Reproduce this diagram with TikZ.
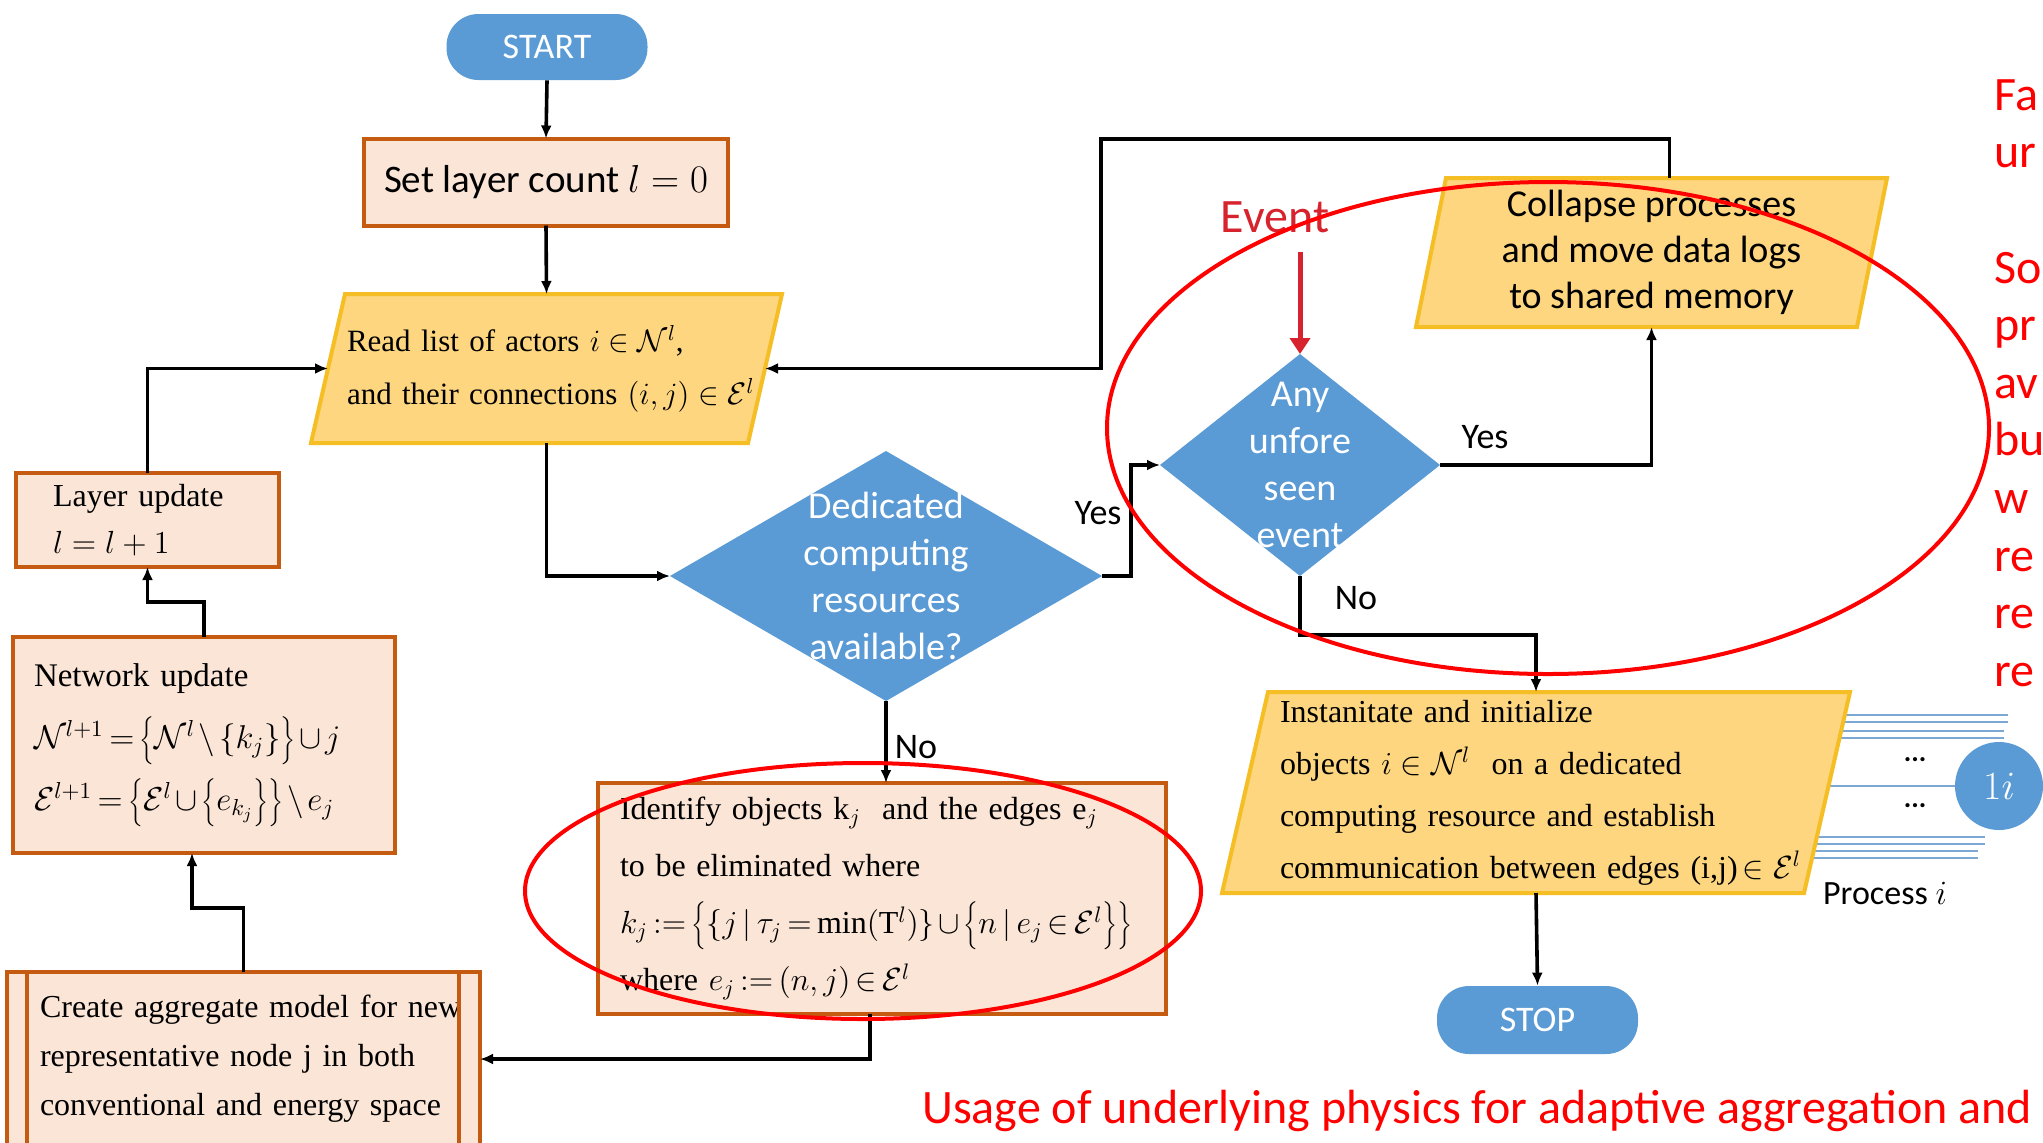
\RequirePackage{fix-cm}
\documentclass[tikz,border=0pt]{standalone}
\usepackage{fontspec}
\setmainfont{Liberation Serif}
\newfontfamily\calibri{Carlito}
\usetikzlibrary{shapes.geometric,arrows.meta,backgrounds}
\definecolor{fcblue}{RGB}{91,155,213}
\definecolor{boxfill}{RGB}{251,229,214}
\definecolor{boxline}{RGB}{197,90,17}
\definecolor{parafill}{RGB}{253,214,127}
\definecolor{paraline}{RGB}{244,190,36}
\definecolor{evred}{RGB}{215,35,45}
\definecolor{procline}{RGB}{125,168,212}
\newcommand\drawpara[2]{\path[para] ([xshift=#2]#1.north west) -- ([xshift=#2]#1.north east) -- ([xshift=-#2]#1.south east) -- ([xshift=-#2]#1.south west) -- cycle;}
\newcommand\bbr{\vrule height 14pt depth 6pt width 0pt}
\newcommand\tightmath{\thickmuskip=3mu plus 1mu\medmuskip=2mu plus 1mu}
\begin{document}
\begin{tikzpicture}[x=0.5pt,y=-0.5pt,
  arr/.style={line width=1.8pt,-{Latex[length=6.5pt,width=5.5pt]}},
  obox/.style={rectangle,draw=boxline,line width=2pt,fill=boxfill,inner ysep=0pt,outer sep=0pt,align=left},
  pill/.style={rectangle,rounded corners=16pt,fill=fcblue,text=white,font=\calibri\fontsize{18}{20}\selectfont,minimum width=100.5pt,minimum height=33pt,inner sep=0pt},
  decision/.style={diamond,fill=fcblue,inner sep=0pt,outer sep=0pt},
  dectext/.style={text=white,align=center,font=\calibri\fontsize{19}{23.5}\selectfont,inner sep=0pt},
  paranode/.style={rectangle,draw=none,inner ysep=0pt,outer sep=0pt},
  para/.style={fill=parafill,draw=paraline,line width=2pt,line join=miter},
  lbl/.style={font=\calibri\fontsize{18}{20}\selectfont,inner sep=0pt},
  ringed/.style={draw=red,line width=2pt},
  procl/.style={draw=procline,line width=0.8pt}]
\useasboundingbox (0,0) rectangle (2043,1142);
\begin{scope}[on background layer]
  \fill[white] (0,0) rectangle (2043,1142);
\end{scope}
\clip (0,0) rectangle (2043,1142);

% nodes
\node[pill] (start) at (547,47) {START};
\node[obox,minimum width=182pt,minimum height=43.5pt,align=center,font=\calibri\fontsize{19.5}{22}\selectfont] (setl) at (546,182) {Set layer count $l = 0$};
\node[paranode,minimum width=218.5pt,minimum height=74.5pt,text width=199.5pt,inner xsep=9.5pt,align=left,font=\fontsize{15.5}{26.5}\selectfont] (read) at (546.5,368.5) {\mbox{Read list of actors $i\in\mathcal{N}^{l}$,}\\ \mbox{and their connections $(i,j)\in\mathcal{E}^{l}$}};
\node[decision,minimum width=216pt,minimum height=125pt,label={[dectext]center:Dedicated\\computing\\resources\\available?}] (dedic) at (886,576) {};
\node[obox,minimum width=284pt,minimum height=115.5pt,text width=262pt,inner xsep=11pt,font=\fontsize{16}{28.5}\selectfont\tightmath] (ident) at (882,898.5) {\mbox{Identify objects k$_{j}$ \ and the edges e$_{j}$}\\ to be eliminated where\\ \mbox{$k_j := \left\{\bbr\{j\mid\tau_j=\min(\mathrm{T}^{l})\}\cup\left\{\bbr n\mid e_j\in\mathcal{E}^{l}\right\}\right\}$}\\ \mbox{where $e_j := (n,j)\in\mathcal{E}^{l}$}};
\node[obox,minimum width=236.5pt,minimum height=87pt,text width=203.5pt,inner xsep=16.5pt,font=\fontsize{16}{24.5}\selectfont] (create) at (243.5,1059) {\mbox{Create aggregate model for new}\\ \mbox{representative node j in both}\\ \mbox{conventional and energy space}};
\node[obox,minimum width=191pt,minimum height=108pt,text width=170pt,inner xsep=10.5pt,font=\fontsize{16.5}{31}\selectfont\tightmath] (network) at (204,745) {Network update\\ \mbox{$\mathcal{N}^{l+1}=\left\{\bbr\mathcal{N}^{l}\setminus\{k_j\}\right\}\cup j$}\\ \mbox{$\mathcal{E}^{l+1}=\left\{\bbr\mathcal{E}^{l}\cup\left\{\bbr e_{k_j}\right\}\right\}\setminus e_j$}};
\node[obox,minimum width=131.5pt,minimum height=47pt,text width=94.5pt,inner xsep=18.5pt,font=\fontsize{16}{23.5}\selectfont] (layer) at (147.5,520) {Layer update\\ $l = l+1$};
\node[decision,minimum width=140pt,minimum height=111pt,label={[dectext]center:Any\\unfore\\seen\\event}] (any) at (1300,465) {};
\node[paranode,minimum width=220.5pt,minimum height=74.5pt,align=center,font=\calibri\fontsize{19}{23}\selectfont] (collapse) at (1651.5,252.5) {Collapse processes\\ and move data logs\\ to shared memory};
\node[paranode,minimum width=291pt,minimum height=100.5pt,text width=256pt,inner xsep=17.5pt,align=left,font=\fontsize{16}{26}\selectfont] (inst) at (1536,792.5) {Instanitate and initialize\\ \mbox{objects $i\in\mathcal{N}^{l}$ \ on a dedicated}\\ \mbox{computing resource and establish}\\ \mbox{communication between edges (i,j)$\,\in\mathcal{E}^{l}$}};
\node[pill,minimum height=34pt] (stop) at (1537.5,1020) {STOP};
\node[font=\calibri\fontsize{24}{28}\selectfont,text=evred,anchor=base,inner sep=0pt] (event) at (1275,232) {Event};
\node[circle,fill=fcblue,minimum size=44pt,inner sep=0pt,text=white,font=\fontsize{20}{22}\selectfont] (pc) at (1999,786) {$1i$};
\node[font=\calibri\bfseries\fontsize{14}{14}\selectfont,inner sep=0pt] (dots1) at (1915,760) {...};
\node[font=\calibri\bfseries\fontsize{14}{14}\selectfont,inner sep=0pt] (dots2) at (1915,806) {...};
\node[lbl,font=\calibri\fontsize{17}{20}\selectfont] (proc) at (1885,893) {Process $i$};

% labels
\node[lbl] (yes1) at (1098,513) {Yes};
\node[lbl] (no1) at (916,747) {No};
\node[lbl] (yes2) at (1485,437) {Yes};
\node[lbl] (no2) at (1356,598) {No};

% create box inner lines
\draw[boxline,line width=2pt] ([xshift=10pt]create.north west) -- ([xshift=10pt]create.south west);
\draw[boxline,line width=2pt] ([xshift=-10.5pt]create.north east) -- ([xshift=-10.5pt]create.south east);

% background: process lines and parallelograms
\begin{scope}[on background layer]
  \foreach \yy/\xe in {715/2008,722/2008,731/2004,738/2004,837/1985,844/1985,851/1978,858/1978}
    \draw[procl] (1805,\yy) -- (\xe,\yy);
  \draw[procl] (1805,786) -- (pc.west);
  \drawpara{read}{8.5pt}
  \drawpara{collapse}{7.5pt}
  \drawpara{inst}{11.5pt}
\end{scope}

% connectors
\coordinate (loopc) at (1101,139);
\draw[arr] (start.south) -- (setl.north);
\draw[arr] (setl.south) -- (read.north);
\draw[arr] (read.south) |- (dedic.west);
\draw[arr] (dedic.east) -- ++(29,0) |- (any.west);
\draw[arr] (dedic.south) -- (dedic.south |- ident.north);
\draw[arr] ([xshift=-6pt]ident.south) |- (create.east);
\draw[arr] (create.north) -- ++(0,-64) -| ([xshift=-6pt]network.south);
\draw[arr] (network.north) -- ++(0,-35) -| (layer.south);
\draw[arr] (layer.north) |- (read.west);
\draw[arr] ([xshift=9pt]collapse.north) |- (loopc) |- (read.east);
\draw[arr] (any.east) -| (collapse.south);
\draw[arr] (any.south) -- ++(0,59) -| (inst.north);
\draw[arr] (inst.south) -- (stop.north);
\draw[evred,line width=2.5pt,-{Triangle[length=8pt,width=10pt]},shorten <=9.5pt] (any.north |- event.south) -- (any.north);

% red annotation ellipses
\draw[ringed] (1548,428) ellipse [x radius=220.5pt,y radius=123pt];
\draw[ringed] (863,891) ellipse [x radius=169pt,y radius=64pt];

% red texts
\node[text=red,font=\calibri\fontsize{24}{28.8}\selectfont,anchor=base west,inner sep=0pt] (usage) at (922,1123) {Usage of underlying physics for adaptive aggregation and};
\node[text=red,font=\calibri\fontsize{24}{28.8}\selectfont,anchor=north west,inner sep=0pt,align=left] (sidetext) at (1994,79) {Fa\\ur\\[28.8pt]So\\pr\\av\\bu\\w\\re\\re\\re};
\end{tikzpicture}
\end{document}
